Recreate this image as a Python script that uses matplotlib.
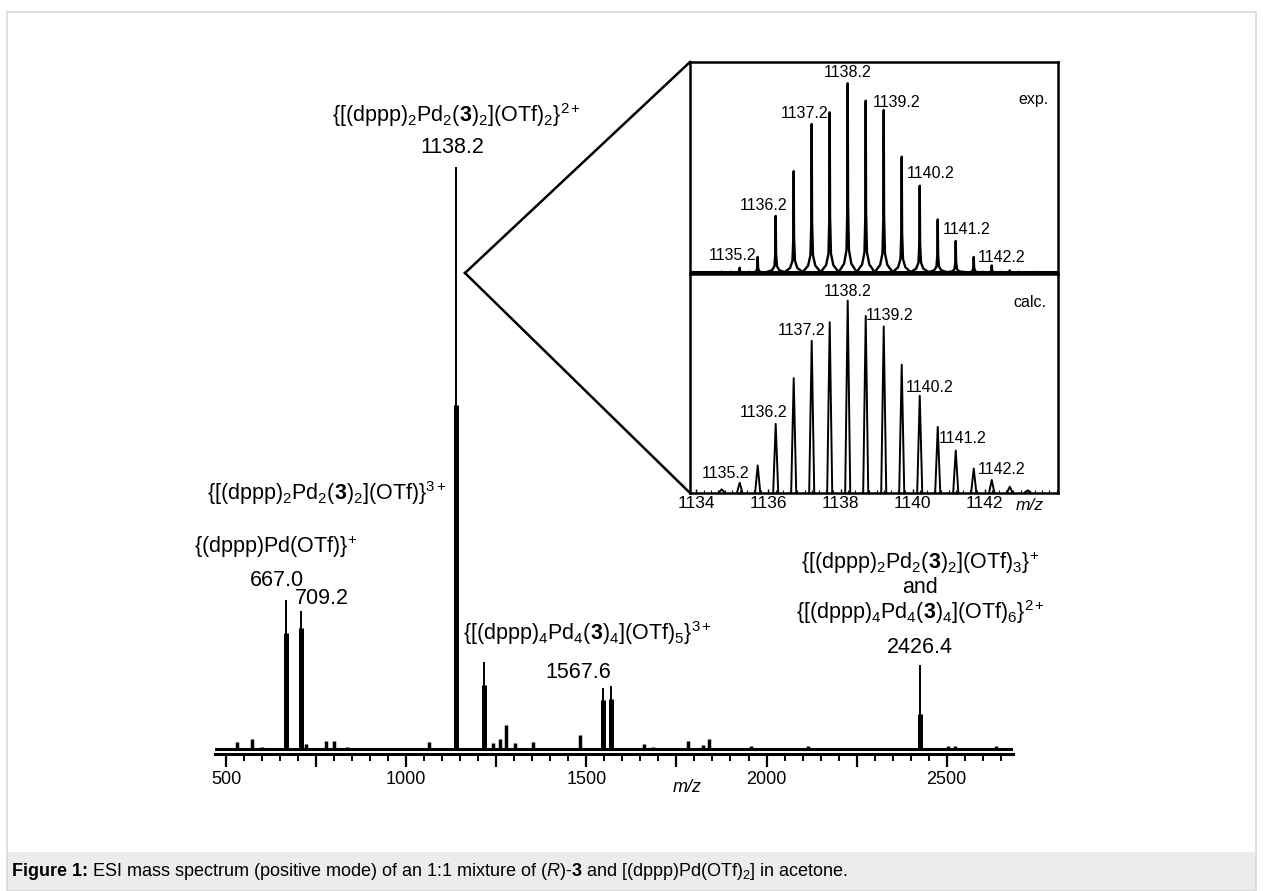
import matplotlib
matplotlib.use('Agg')
import matplotlib.pyplot as plt
from matplotlib.lines import Line2D
from matplotlib.patches import Rectangle
from matplotlib.ticker import MultipleLocator, FuncFormatter, FixedLocator

plt.rcParams['font.family'] = ['Liberation Sans', 'DejaVu Sans']
plt.rcParams['mathtext.fontset'] = 'custom'
plt.rcParams['mathtext.rm'] = 'Liberation Sans'
plt.rcParams['mathtext.it'] = 'Liberation Sans:italic'
plt.rcParams['mathtext.bf'] = 'Liberation Sans:bold'

W, H = 1263, 891

# --- main spectrum (intensity in % of the 1138.2 peak) ---
peak_mz = [667.0, 709.2, 1138.2, 1217.0, 1545.0, 1567.6, 2426.4]
peak_tip = [25.6, 23.7, 100.0, 14.9, 10.5, 10.8, 14.4]
peak_base = [19.9, 20.8, 59.1, 11.0, 8.4, 8.6, 6.0]

minor_mz = [530, 573, 601, 722, 778, 801, 836, 946, 1062, 1240, 1260, 1277,
            1302, 1351, 1482, 1661, 1686, 1783, 1824, 1841, 1957, 2115,
            2503, 2523, 2637]
minor_int = [1.15, 1.8, 0.35, 0.8, 1.4, 1.4, 0.4, 0.2, 1.25, 1.1, 1.7, 4.2,
             1.0, 1.2, 2.4, 0.9, 0.4, 1.3, 0.7, 1.8, 0.6, 0.5,
             0.6, 0.6, 0.6]

# --- isotope pattern of {[(dppp)2Pd2(3)2](OTf)2}2+ ---
iso_mz = [1134.7, 1135.2, 1135.7, 1136.2, 1136.7, 1137.2, 1137.7, 1138.2, 1138.7,
          1139.2, 1139.7, 1140.2, 1140.7, 1141.2, 1141.7, 1142.2, 1142.7, 1143.2]
iso_exp = [0.7, 2.8, 8.5, 30.1, 53.7, 78.5, 84.7, 100.0, 90.8,
           85.9, 61.3, 46.0, 28.2, 16.9, 8.5, 4.0, 1.4, 0.5]
iso_calc = [1.4, 4.9, 13.9, 35.6, 59.5, 79.0, 88.7, 100.0, 92.0,
            86.5, 66.5, 50.3, 34.0, 21.7, 12.3, 6.3, 2.8, 0.9]
iso_labels = ['1135.2', '1136.2', '1137.2', '1138.2', '1139.2', '1140.2', '1141.2', '1142.2']
# label anchor points (m/z, intensity) in each panel
exp_label_pos = [(1134.99, 9.0), (1135.85, 35.8), (1137.01, 84.3), (1138.21, 105.6),
                 (1139.56, 89.6), (1140.49, 52.2), (1141.51, 22.7), (1142.46, 8.4)]
calc_label_pos = [(1134.82, 9.9), (1135.85, 41.6), (1136.93, 84.2), (1138.21, 104.7),
                  (1139.35, 92.2), (1140.47, 54.6), (1141.40, 28.1), (1142.46, 12.0)]


def fx(px):
    return px / W


def fy(py):
    return 1 - py / H


fig = plt.figure(figsize=(W / 100, H / 100), dpi=100)

# page frame and caption band
fig.add_artist(Rectangle((fx(7), 0), fx(1256) - fx(7), fy(852), transform=fig.transFigure,
                         facecolor='#ececec', edgecolor='none', zorder=0))
fig.add_artist(Rectangle((fx(7), 0), fx(1256) - fx(7), fy(12), transform=fig.transFigure,
                         fill=False, edgecolor='#d9d9d9', lw=1.2, zorder=0))
cap1 = fig.text(fx(12), fy(871), 'Figure 1:', fontsize=13, weight='bold', va='center', ha='left')
fig.canvas.draw()
bb = cap1.get_window_extent()
fig.text((bb.x1 + 4) / W, fy(871),
         r'ESI mass spectrum (positive mode) of an 1:1 mixture of '
         r'($\mathit{R}$)-$\mathbf{3}$ and [(dppp)Pd(OTf)$_2$] in acetone.',
         fontsize=13, va='center', ha='left')

# main spectrum
ax = fig.add_axes([fx(215), fy(754), fx(1013) - fx(215), fy(167) - fy(754)])
ax.axhline(0, color='k', lw=2.2)
ax.vlines(minor_mz, 0, minor_int, color='k', lw=2.5)
ax.vlines(peak_mz, 0, peak_base, color='k', lw=3.6, clip_on=False)
ax.vlines(peak_mz, 0, peak_tip, color='k', lw=1.4, clip_on=False)
ax.set_xlim(469.5, 2684)
ax.set_ylim(-0.86, 100)
for s in ['left', 'right', 'top']:
    ax.spines[s].set_visible(False)
ax.spines['bottom'].set_linewidth(2.2)
ax.set_yticks([])
ax.xaxis.set_major_locator(MultipleLocator(250))
ax.xaxis.set_minor_locator(MultipleLocator(50))
ax.xaxis.set_major_formatter(FuncFormatter(lambda v, p: f'{int(v)}' if v % 500 == 0 else ''))
ax.tick_params(axis='x', which='major', length=9, width=1.6, labelsize=13, pad=3)
ax.tick_params(axis='x', which='minor', length=5, width=1.4)
ax.patch.set_alpha(0)
fig.text(fx(687), fy(787), 'm/z', style='italic', fontsize=13, ha='center', va='center')

fs = 15.5
ax.text(1141, 108.9, r'{[(dppp)$_2$Pd$_2$($\mathbf{3}$)$_2$](OTf)$_2$}$^{2+}$', fontsize=fs, ha='center', va='center')
ax.text(1127, 103.3, '1138.2', fontsize=fs, ha='center', va='center')
ax.text(780, 44.0, r'{[(dppp)$_2$Pd$_2$($\mathbf{3}$)$_2$](OTf)}$^{3+}$', fontsize=fs, ha='center', va='center')
ax.text(639, 34.7, r'{(dppp)Pd(OTf)}$^{+}$', fontsize=fs, ha='center', va='center')
ax.text(641.5, 29.0, '667.0', fontsize=fs, ha='center', va='center')
ax.text(766, 25.9, '709.2', fontsize=fs, ha='center', va='center')
ax.text(1504, 19.9, r'{[(dppp)$_4$Pd$_4$($\mathbf{3}$)$_4$](OTf)$_5$}$^{3+}$', fontsize=fs, ha='center', va='center')
ax.text(1477, 13.1, '1567.6', fontsize=fs, ha='center', va='center')
ax.text(2426, 32.0, r'{[(dppp)$_2$Pd$_2$($\mathbf{3}$)$_2$](OTf)$_3$}$^{+}$', fontsize=fs, ha='center', va='center')
ax.text(2426, 27.8, 'and', fontsize=fs, ha='center', va='center')
ax.text(2426, 23.5, r'{[(dppp)$_4$Pd$_4$($\mathbf{3}$)$_4$](OTf)$_6$}$^{2+}$', fontsize=fs, ha='center', va='center')
ax.text(2426, 17.4, '2426.4', fontsize=fs, ha='center', va='center')

# zoom lines to the inset
fig.add_artist(Line2D([fx(465), fx(690)], [fy(273), fy(62)], color='k', lw=1.8, transform=fig.transFigure))
fig.add_artist(Line2D([fx(465), fx(690)], [fy(273), fy(493)], color='k', lw=1.8, transform=fig.transFigure))

# inset: experimental
ax_exp = fig.add_axes([fx(690), fy(274), fx(1058) - fx(690), fy(62) - fy(274)])
ax_exp.axhline(0.5, color='k', lw=2.2)
for m, h in zip(iso_mz, iso_exp):
    ax_exp.plot([m - 0.25, m - 0.1, m - 0.035, m - 0.01, m, m + 0.01, m + 0.035, m + 0.1, m + 0.25],
                [0.5, 0.05 * h, 0.12 * h, 0.35 * h, h, 0.35 * h, 0.12 * h, 0.05 * h, 0.5],
                color='k', lw=1.7)
ax_exp.set_xlim(1133.82, 1144.04)
ax_exp.set_ylim(-0.5, 111.2)
ax_exp.set_xticks([])
ax_exp.set_yticks([])
for (x, y), t in zip(exp_label_pos, iso_labels):
    ax_exp.text(x, y, t, fontsize=11.5, ha='center', va='center')
ax_exp.text(1143.35, 91.7, 'exp.', fontsize=11.5, ha='center', va='center')

# inset: calculated
ax_calc = fig.add_axes([fx(690), fy(493), fx(1058) - fx(690), fy(274) - fy(493)])
for m, h in zip(iso_mz, iso_calc):
    ax_calc.plot([m - 0.07, m, m + 0.07], [0, h, 0], color='k', lw=1.4)
ax_calc.set_xlim(1133.82, 1144.04)
ax_calc.set_ylim(-0.5, 113.9)
ax_calc.set_yticks([])
ax_calc.xaxis.set_major_locator(FixedLocator([1134, 1136, 1138, 1140, 1142]))
ax_calc.xaxis.set_minor_locator(MultipleLocator(0.2))
ax_calc.tick_params(axis='x', which='major', direction='in', length=3, width=1, labelsize=12.5, pad=2)
ax_calc.tick_params(axis='x', which='minor', direction='in', length=2, width=0.8)
for (x, y), t in zip(calc_label_pos, iso_labels):
    ax_calc.text(x, y, t, fontsize=11.5, ha='center', va='center')
ax_calc.text(1143.26, 99.0, 'calc.', fontsize=11.5, ha='center', va='center')
fig.text(fx(1030), fy(505), 'm/z', style='italic', fontsize=12.5, ha='center', va='center')

for a in (ax_exp, ax_calc):
    for s in a.spines.values():
        s.set_linewidth(1.8)

fig.savefig('out.png', dpi=100)
